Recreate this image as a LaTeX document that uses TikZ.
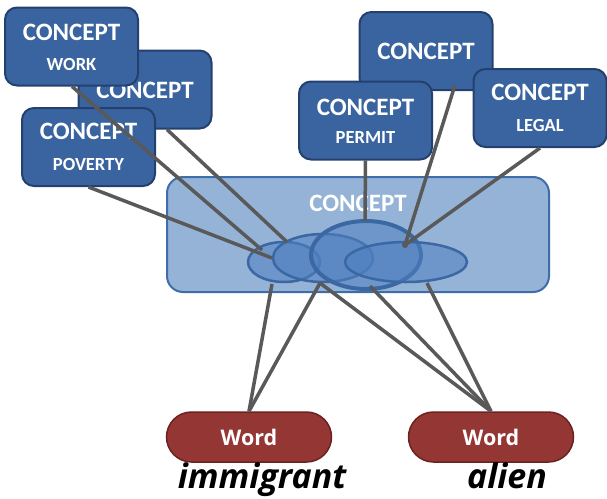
\documentclass[tikz,border=0pt]{standalone}
\usepackage{fontspec}
\setmainfont{Carlito}
\newfontfamily\wordfont{Open Sans}
\usetikzlibrary{shapes.misc}
\definecolor{boxfill}{HTML}{3A64A0}
\definecolor{boxline}{HTML}{24406E}
\definecolor{groupfill}{HTML}{95B3D7}
\definecolor{groupline}{HTML}{3E6DAA}
\definecolor{sensefill}{HTML}{4F7FC0}
\definecolor{senseline}{HTML}{3B68A3}
\definecolor{wordfill}{HTML}{943634}
\definecolor{wordline}{HTML}{6B2220}
\definecolor{linkgray}{HTML}{595959}
\tikzset{
  conceptbox/.style={draw=boxline, fill=boxfill, line width=2pt, rounded corners=12pt,
    minimum width=133pt, minimum height=78pt, inner sep=0pt},
  groupbox/.style={draw=groupline, fill=groupfill, line width=2pt, rounded corners=16pt,
    minimum width=382pt, minimum height=115pt, inner sep=0pt},
  sense/.style={draw=senseline, fill=sensefill, fill opacity=0.55, draw opacity=1, line width=2.5pt},
  wordbox/.style={draw=wordline, fill=wordfill, line width=1.5pt, rounded rectangle,
    minimum width=165pt, minimum height=50pt, inner sep=0pt},
  bigtxt/.style={text=white, font=\fontsize{25}{25}\selectfont\bfseries, inner sep=0pt},
  smalltxt/.style={text=white, font=\fontsize{18.5}{18.5}\selectfont\bfseries, inner sep=0pt},
  wordtxt/.style={text=white, font=\wordfont\fontsize{21.5}{21.5}\selectfont\bfseries, inner sep=0pt},
  lemma/.style={text=black, font=\wordfont\fontsize{34}{34}\selectfont\bfseries\itshape,
    inner sep=0pt, anchor=base},
  link/.style={draw=linkgray, line width=3.5pt},
}
\begin{document}
\begin{tikzpicture}[x=1pt,y=-1pt]
\useasboundingbox (0,0) rectangle (607,498);

% group of senses
\node[groupbox] (group) at (358,234.5) {};
\node[bigtxt] (grouptxt) at (358,203) {CONCEPT};

% concept boxes, back row first
\node[conceptbox] (cmid) at (145,89.5) {};
\node[bigtxt] (cmidtxt) at (145,90) {CONCEPT};
\node[conceptbox] (cwork) at (71.5,46.5) {};
\node[bigtxt] (cworktxt) at (71.5,32.5) {CONCEPT};
\node[smalltxt] (cworklbl) at (71.5,64) {WORK};
\node[conceptbox] (cpov) at (88.5,147) {};
\node[bigtxt] (cpovtxt) at (88.5,131.5) {CONCEPT};
\node[smalltxt] (cpovlbl) at (88.5,164) {POVERTY};

\node[conceptbox] (ctop) at (426,51) {};
\node[bigtxt] (ctoptxt) at (426,51) {CONCEPT};
\node[conceptbox] (cperm) at (365.5,120.5) {};
\node[bigtxt] (cpermtxt) at (365.5,107.5) {CONCEPT};
\node[smalltxt] (cpermlbl) at (365.5,137.5) {PERMIT};
\node[conceptbox] (clegal) at (540,108) {};
\node[bigtxt] (clegaltxt) at (540,92.5) {CONCEPT};
\node[smalltxt] (clegallbl) at (540,125) {LEGAL};

% overlapping senses
\draw[sense] (284,262) ellipse [x radius=36, y radius=20];
\draw[sense] (323,258) ellipse [x radius=50, y radius=24];
\draw[sense, line width=4pt] (366,255) ellipse [x radius=55, y radius=34];
\draw[sense] (406,262) ellipse [x radius=61, y radius=20];

% anchor points on the senses
\coordinate (s1top) at (262,250);
\coordinate (s1mid) at (272,258);
\coordinate (s2top) at (287,242);
\coordinate (s3top) at (365,221);
\coordinate (s4dot) at (405,245);
\coordinate (b1) at (272,284);
\coordinate (b2) at (320,283);
\coordinate (b3) at (370,286);
\coordinate (b4) at (427,283);

% word boxes
\node[wordbox] (wimm) at (249,437) {};
\node[wordtxt] (wimmtxt) at (249,437) {Word};
\node[wordbox] (wali) at (491,437) {};
\node[wordtxt] (walitxt) at (491,437) {Word};
\node[lemma] (limm) at (262,488) {immigrant};
\node[lemma] (lali) at (507,488) {alien};

% links from concepts down to senses
\draw[link] (cwork.south) ++(0.5,0) -- (s1top);
\draw[link] (cmid.south) ++(22,0) -- (s2top);
\draw[link] (cpov.south) -- (s1mid);
\draw[link] (cperm.south) -- (s3top);
\draw[link] (ctop.south) ++(29,-6) -- (s4dot);
\draw[link] (clegal.south) -- (s4dot);
\fill[linkgray] (s4dot) circle (3pt);

% links from senses down to words
\draw[link] (b1) -- (wimm.north);
\draw[link] (b2) -- (wimm.north);
\draw[link] (b2) -- (wali.north);
\draw[link] (b3) -- (wali.north);
\draw[link] (b4) -- (wali.north);
\end{tikzpicture}
\end{document}
